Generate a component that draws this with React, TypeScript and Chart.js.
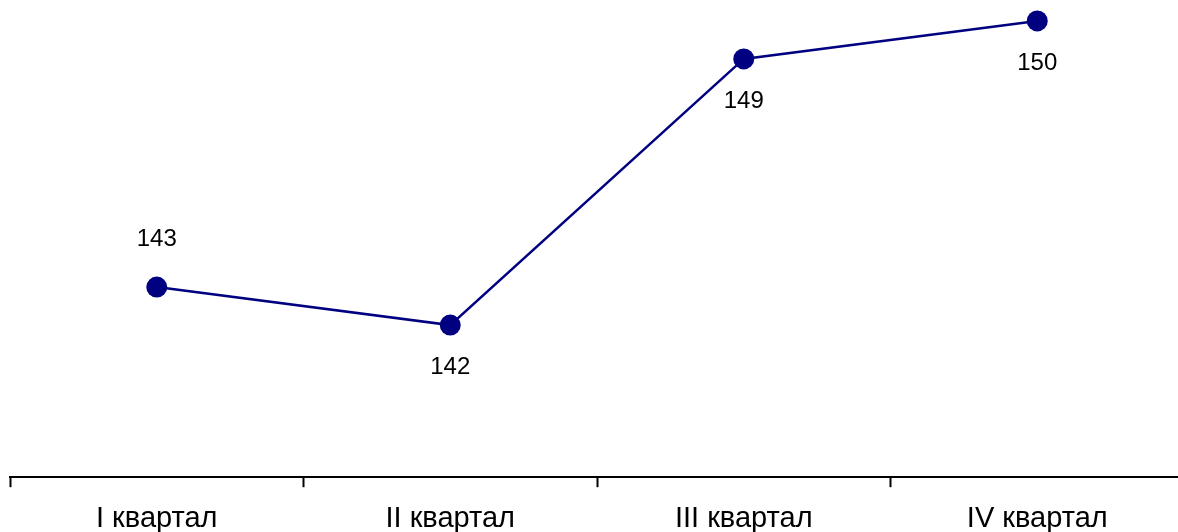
import React, { useEffect, useRef } from "react";
import { Chart, registerables } from "chart.js";

Chart.register(...registerables);

const categories: string[] = ["I квартал", "II квартал", "III квартал", "IV квартал"];
const values: number[] = [143, 142, 149, 150];
const labelPlacement: string[] = ["above", "below", "below", "below"];
const yMin = 138;
const yMax = 150.55;

const FONT = "Arial, 'Liberation Sans', sans-serif";
const NAVY = "#000080";

const valueLabels = {
  id: "valueLabels",
  afterDatasetsDraw(chart: any) {
    const ctx = chart.ctx;
    const meta = chart.getDatasetMeta(0);
    ctx.save();
    ctx.font = `24px ${FONT}`;
    ctx.fillStyle = "#000000";
    ctx.textAlign = "center";
    ctx.textBaseline = "alphabetic";
    meta.data.forEach((pt: any, i: number) => {
      const above = labelPlacement[i] === "above";
      const y = above ? pt.y - 41 : pt.y + 49;
      ctx.fillText(String(values[i]), pt.x, y);
    });
    ctx.restore();
  },
};

export default function App() {
  const ref = useRef<HTMLCanvasElement | null>(null);

  useEffect(() => {
    if (!ref.current) return;
    const chart = new Chart(ref.current, {
      type: "line",
      data: {
        labels: categories,
        datasets: [
          {
            data: values,
            borderColor: NAVY,
            backgroundColor: NAVY,
            borderWidth: 2.5,
            pointRadius: 10.5,
            pointHoverRadius: 10.5,
            pointBackgroundColor: NAVY,
            pointBorderColor: NAVY,
            pointBorderWidth: 0,
            tension: 0,
            fill: false,
            clip: false,
          },
        ],
      },
      options: {
        responsive: false,
        animation: false,
        devicePixelRatio: 1,
        layout: { autoPadding: false, padding: { left: 10, right: 6, top: 0, bottom: 0 } },
        plugins: {
          legend: { display: false },
          tooltip: { enabled: false },
        },
        scales: {
          x: {
            offset: true,
            grid: {
              display: true,
              drawOnChartArea: false,
              drawTicks: true,
              tickLength: 10,
              tickWidth: 2,
              tickColor: "#000000",
              offset: true,
            },
            border: { display: true, color: "#000000", width: 2 },
            ticks: {
              color: "#000000",
              padding: 14,
              maxRotation: 0,
              autoSkip: false,
              font: { family: FONT, size: 29, lineHeight: 1.2 },
            },
          },
          y: {
            display: false,
            min: yMin,
            max: yMax,
          },
        },
      },
      plugins: [valueLabels],
    });
    return () => chart.destroy();
  }, []);

  return (
    <div
      style={{
        position: "fixed",
        left: 0,
        top: 0,
        width: 1178,
        height: 532,
        overflow: "hidden",
        background: "#ffffff",
      }}
    >
      <canvas ref={ref} width={1190} height={550} style={{ display: "block" }} />
    </div>
  );
}
